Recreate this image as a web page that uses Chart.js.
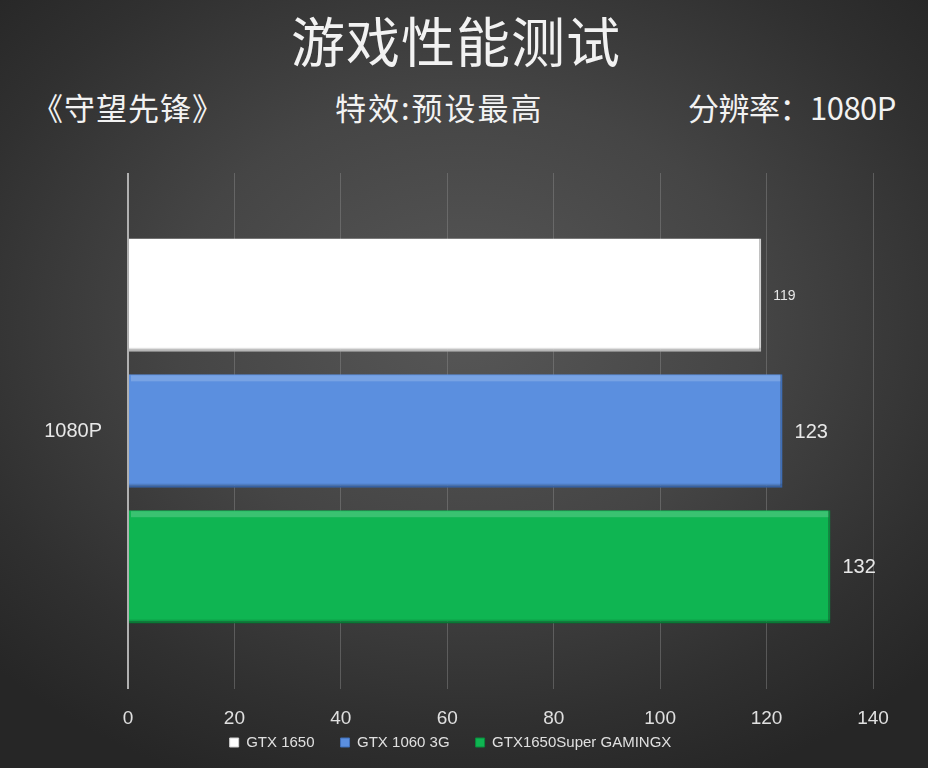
<!DOCTYPE html>
<html>
<head>
<meta charset="utf-8">
<script src="https://cdn.jsdelivr.net/npm/chart.js@4.4.0/dist/chart.umd.min.js"></script>
<style>
  html, body { margin: 0; padding: 0; width: 928px; height: 768px; overflow: hidden; }
  body {
    background: radial-gradient(ellipse 70% 65% at 50% 42%, #575757 0%, #454545 45%, #303030 80%, #262626 100%);
    font-family: "Noto Sans CJK SC", "Noto Sans", sans-serif;
    position: relative;
  }
  .txt { position: absolute; color: #f2f2f2; white-space: nowrap; line-height: 1; }
  #title { left: -8px; width: 928px; text-align: center; top: 13px; font-size: 54px; font-weight: 400; letter-spacing: 1px; }
  #sub1 { left: 32px; top: 91px; font-size: 31px; letter-spacing: 1px; }
  #sub2 { left: 335px; top: 91px; font-size: 31px; letter-spacing: 2px; }
  #sub3 { left: 688px; top: 91px; font-size: 31px; letter-spacing: -0.5px; }
  #wrap { position: absolute; left: 0; top: 0; width: 928px; height: 768px; }
</style>
</head>
<body>
<div class="txt" id="title">游戏性能测试</div>
<div class="txt" id="sub1">《守望先锋》</div>
<div class="txt" id="sub2">特效:预设最高</div>
<div class="txt" id="sub3">分辨率：1080P</div>
<div id="wrap"><canvas id="c" width="928" height="768"></canvas></div>
<script>
const categories = ["1080P"];
const seriesNames = ["GTX 1650", "GTX 1060 3G", "GTX1650Super GAMINGX"];
const gtx1650 = [119];
const gtx1060 = [123];
const gtx1650super = [132];
const xTicks = [0, 20, 40, 60, 80, 100, 120, 140];

const colors = ["#ffffff", "#5b8fdf", "#0fb552"];
const borders = ["#d0d0d0", "#3f6fb8", "#0a8a3c"];
const labelSizes = [14, 20, 20];

const valueLabels = {
  id: 'valueLabels',
  afterDatasetsDraw(chart) {
    const ctx = chart.ctx;
    chart.data.datasets.forEach((ds, i) => {
      const meta = chart.getDatasetMeta(i);
      meta.data.forEach((bar, j) => {
        ctx.save();
        ctx.fillStyle = '#e8e8e8';
        ctx.font = labelSizes[i] + 'px "Liberation Sans", "Noto Sans", sans-serif';
        ctx.textAlign = 'left';
        ctx.textBaseline = 'middle';
        ctx.fillText(String(ds.data[j]), bar.x + 12, bar.y + 1);
        ctx.restore();
      });
    });
  }
};

const barShade = {
  id: 'barShade',
  afterDatasetsDraw(chart) {
    const ctx = chart.ctx;
    chart.data.datasets.forEach((ds, i) => {
      chart.getDatasetMeta(i).data.forEach(bar => {
        const top = bar.y - bar.height / 2;
        const left = bar.base;
        const w = bar.x - bar.base;
        ctx.save();
        ctx.fillStyle = 'rgba(255,255,255,0.18)';
        if (i > 0) ctx.fillRect(left + 2, top + 1, w - 4, 6);
        ctx.fillStyle = 'rgba(0,0,0,0.12)';
        ctx.fillRect(left, top + bar.height - 4, w, 4);
        ctx.restore();
      });
    });
  }
};

const legendShift = {
  id: 'legendShift',
  afterLayout(chart) {
    const lg = chart.legend;
    if (lg) {
      const h = lg.bottom - lg.top;
      lg.left += 14; lg.right += 14;
      lg.top = 709; lg.bottom = 709 + h;
    }
  }
};

new Chart(document.getElementById('c'), {
  type: 'bar',
  data: {
    labels: categories,
    datasets: [
      { label: seriesNames[0], data: gtx1650, backgroundColor: colors[0], borderColor: borders[0], borderWidth: {right: 2, bottom: 2} },
      { label: seriesNames[1], data: gtx1060, backgroundColor: colors[1], borderColor: borders[1], borderWidth: {right: 2, bottom: 2} },
      { label: seriesNames[2], data: gtx1650super, backgroundColor: colors[2], borderColor: borders[2], borderWidth: {right: 2, bottom: 2} }
    ]
  },
  plugins: [barShade, valueLabels, legendShift],
  options: {
    indexAxis: 'y',
    responsive: false,
    animation: false,
    devicePixelRatio: 1,
    layout: { padding: { top: 173, left: 0, right: 55, bottom: -16 } },
    datasets: { bar: { categoryPercentage: 0.79, barPercentage: 0.834 } },
    scales: {
      x: {
        min: 0, max: 140,
        afterBuildTicks(scale) { scale.ticks = xTicks.map(v => ({ value: v })); },
        ticks: { color: '#e0e0e0', font: { size: 19, family: '"Liberation Sans", "Noto Sans", sans-serif' }, padding: 18 },
        grid: {
          drawTicks: false,
          color: ctx => ctx.tick && ctx.tick.value === 0 ? '#b0b0b0' : 'rgba(140,140,140,0.45)',
          lineWidth: ctx => ctx.tick && ctx.tick.value === 0 ? 2 : 1
        },
        border: { display: false },
        afterFit(scale) { scale.height = 44; }
      },
      y: {
        ticks: { color: '#e8e8e8', font: { size: 20, family: '"Liberation Sans", "Noto Sans", sans-serif' }, padding: 18 },
        grid: { display: false },
        border: { display: false },
        afterFit(scale) { scale.width = 128; }
      }
    },
    plugins: {
      legend: {
        position: 'bottom',
        labels: {
          color: '#e0e0e0',
          boxWidth: 9, boxHeight: 9,
          padding: 26,
          font: { size: 15, family: '"Liberation Sans", "Noto Sans", sans-serif' }
        }
      },
      tooltip: { enabled: false }
    }
  }
});
</script>
</body>
</html>
